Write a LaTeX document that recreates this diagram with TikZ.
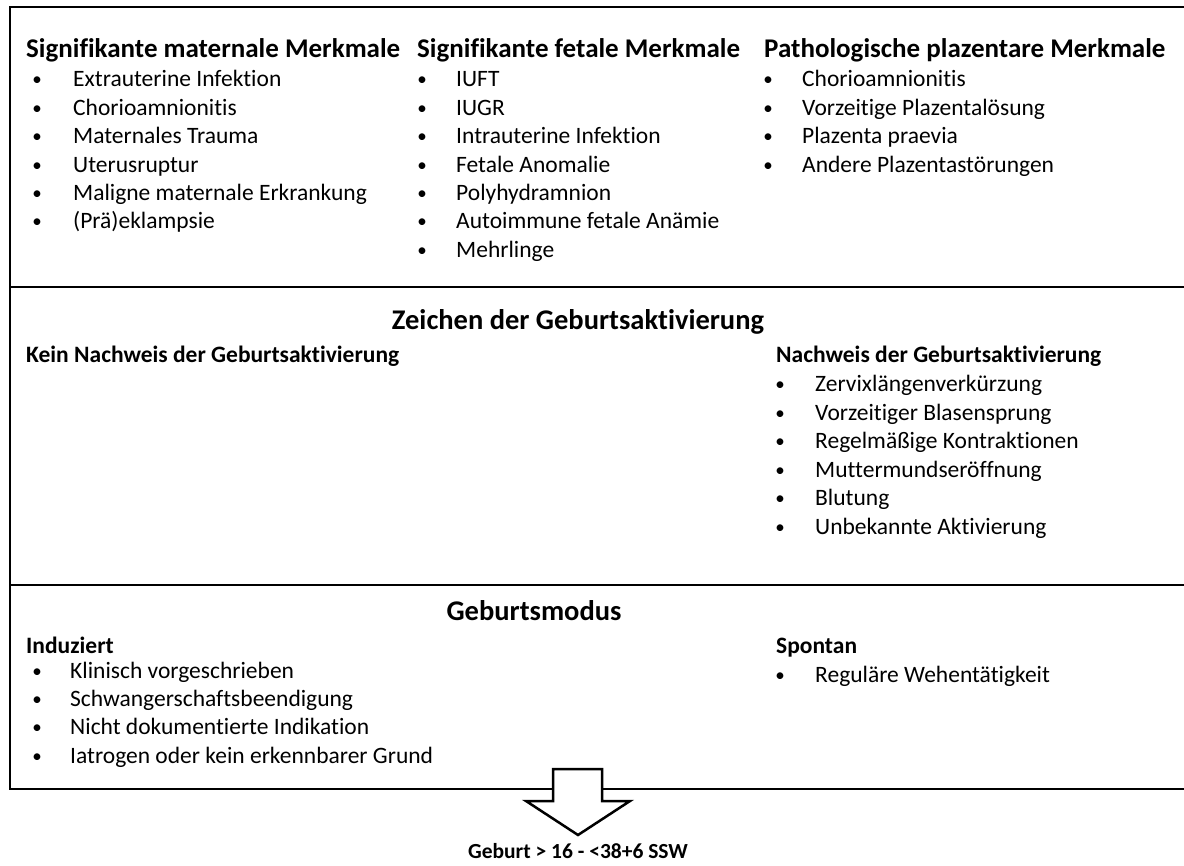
\documentclass[tikz,border=0pt]{standalone}
\usepackage{fontspec}
\setmainfont{Carlito}[Ligatures=NoCommon]
\begin{document}
\begin{tikzpicture}[x=1pt,y=-1pt,
  rule/.style={line width=2.5pt},
  hd/.style={anchor=base west,inner sep=0pt,font=\fontsize{27}{32}\selectfont\bfseries},
  hdmid/.style={anchor=base,inner sep=0pt,font=\fontsize{28.5}{33}\selectfont\bfseries},
  sub/.style={anchor=base west,inner sep=0pt,font=\fontsize{23.5}{28}\selectfont\bfseries},
  itm/.style={anchor=base west,inner sep=0pt,font=\fontsize{23.5}{28}\selectfont},
  dot/.style={anchor=base,inner sep=0pt,font=\fontsize{19}{23}\selectfont},
]
% bullet list: name prefix, bullet x, text x, first baseline, entries
\newcommand{\bulletlist}[5]{%
  \foreach \txt [count=\idx from 0] in {#5} {
    \node[dot] (#1b\idx) at (#2,{#4-1+28.4*\idx}) {•};
    \node[itm] (#1t\idx) at (#3,{#4+28.4*\idx}) {\txt};
  }}

\useasboundingbox (0,0) rectangle (1184,866);
\fill[white] (0,0) rectangle (1184,866);

% frame, open to the right
\draw[rule] (1195,7) -- (10,7) -- (10,789) -- (1195,789);
\draw[rule] (10,287) -- (1195,287);
\draw[rule] (10,585) -- (1195,585);

% --- top band: features
\node[hd] (mat) at (26,58) {Signifikante maternale Merkmale};
\bulletlist{mat}{37}{73}{87}{Extrauterine Infektion,Chorioamnionitis,Maternales Trauma,Uterusruptur,Maligne maternale Erkrankung,(Prä)eklampsie}

\node[hd] (fet) at (417,58) {Signifikante fetale Merkmale};
\bulletlist{fet}{422}{456}{87}{IUFT,IUGR,Intrauterine Infektion,Fetale Anomalie,Polyhydramnion,Autoimmune fetale Anämie,Mehrlinge}

\node[hd] (pla) at (764,58) {Pathologische plazentare Merkmale};
\bulletlist{pla}{768}{802}{87}{Chorioamnionitis,Vorzeitige Plazentalösung,Plazenta praevia,Andere Plazentastörungen}

% --- middle band: labour activation
\node[hdmid] (act) at (578,330) {Zeichen der Geburtsaktivierung};
\node[sub] (noact) at (26,363) {Kein Nachweis der Geburtsaktivierung};
\node[sub] (yesact) at (776,363) {Nachweis der Geburtsaktivierung};
\bulletlist{yes}{780}{815}{392}{Zervixlängenverkürzung,Vorzeitiger Blasensprung,Regelmäßige Kontraktionen,Muttermundseröffnung,Blutung,Unbekannte Aktivierung}

% --- bottom band: mode of delivery
\node[hdmid] (mode) at (534,620) {Geburtsmodus};
\node[sub] (ind) at (26,653) {Induziert};
\bulletlist{ind}{37}{70}{678}{Klinisch vorgeschrieben,Schwangerschaftsbeendigung,Nicht dokumentierte Indikation,Iatrogen oder kein erkennbarer Grund}
\node[sub] (spo) at (776,653) {Spontan};
\bulletlist{spo}{780}{815}{682}{Reguläre Wehentätigkeit}

% --- block arrow to the outcome
\coordinate (tip) at (578,835);
\draw[rule,fill=white,line join=miter]
  (553,769) -- (602,769) -- (602,801) -- (630,801) -- (tip) -- (526,801) -- (553,801) -- cycle;
\node[anchor=base,inner sep=0pt,font=\fontsize{21.5}{26}\selectfont\bfseries] (out) at (578,858) {Geburt > 16 - <38+6 SSW};
\end{tikzpicture}
\end{document}
